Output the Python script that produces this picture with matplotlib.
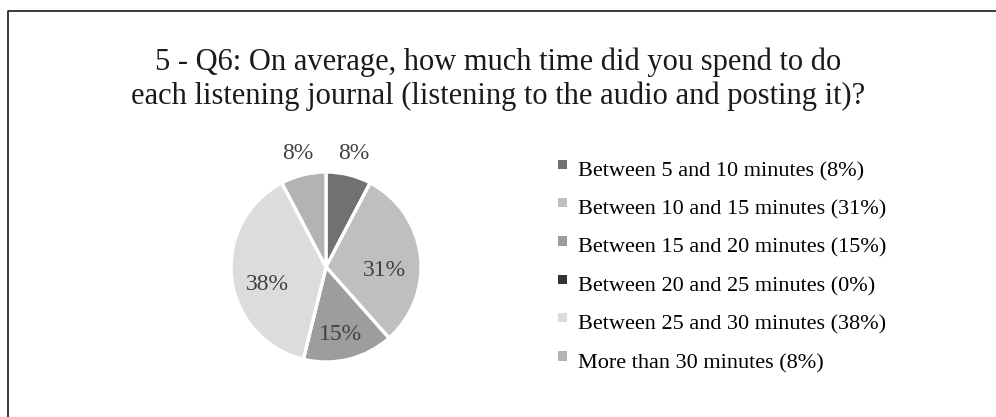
import matplotlib
matplotlib.use("Agg")
import matplotlib.pyplot as plt
import numpy as np
from matplotlib.patches import Patch, Rectangle
from matplotlib.lines import Line2D
from matplotlib.legend_handler import HandlerPatch

plt.rcParams['font.family'] = ['Liberation Serif', 'DejaVu Serif']

title = "5 - Q6: On average, how much time did you spend to do\neach listening journal (listening to the audio and posting it)?"
categories = ["Between 5 and 10 minutes", "Between 10 and 15 minutes",
              "Between 15 and 20 minutes", "Between 20 and 25 minutes",
              "Between 25 and 30 minutes", "More than 30 minutes"]
counts = [1, 4, 2, 0, 5, 1]
pct_labels = ["8%", "31%", "15%", "0%", "38%", "8%"]
colors = ["#717171", "#bfbfbf", "#9d9d9d", "#333333", "#dcdcdc", "#b3b3b3"]

W, H = 996, 417
fig = plt.figure(figsize=(W / 100, H / 100), dpi=100)

def px(x0, y0, x1, y1):
    return [x0 / W, 1 - y1 / H, (x1 - x0) / W, (y1 - y0) / H]

# border (top and left lines)
fig.add_artist(Line2D([8 / W, 8 / W, 1.0], [0.0, 1 - 11 / H, 1 - 11 / H],
                      transform=fig.transFigure, color="#1a1a1a", lw=1.2))

fig.text(0.5, 1 - 79 / H, title, ha="center", va="center", fontsize=22,
         color="#1a1a1a", linespacing=1.22)

cx, cy, r = 326, 267, 95
ax = fig.add_axes(px(cx - r, cy - r, cx + r, cy + r))
vals = np.array(counts, dtype=float)
wedges, _ = ax.pie(vals, colors=colors, startangle=90, counterclock=False,
                   wedgeprops=dict(edgecolor="white", linewidth=2.4))
ax.set_xlim(-1, 1)
ax.set_ylim(-1, 1)
ax.set_aspect("equal")
ax.axis("off")

total = vals.sum()
frac = vals / total
start = 90.0
for f, lab in zip(frac, pct_labels):
    ang = start - f * 360 / 2
    start -= f * 360
    if f == 0:
        continue
    d = 1.23 if f < 0.1 else 0.62
    x = d * np.cos(np.radians(ang))
    y = d * np.sin(np.radians(ang))
    ax.text(x, y, lab, ha="center", va="top" if f >= 0.1 else "center",
            fontsize=17, color="#404040", clip_on=False)


def raised_square(legend, orig_handle, xdescent, ydescent, width, height, fontsize):
    s = width
    return Rectangle((-xdescent, -ydescent + height * 0.45), s, s)


handles = [Patch(facecolor=c, edgecolor="none") for c in colors]
labels = [f"{c} ({p})" for c, p in zip(categories, pct_labels)]
fig.legend(handles, labels, loc="upper left", bbox_to_anchor=(558 / W, 1 - 162 / H),
           frameon=False, fontsize=16, handlelength=0.42, handleheight=0.42,
           handletextpad=0.5, labelspacing=0.86, borderpad=0, borderaxespad=0,
           handler_map={Patch: HandlerPatch(patch_func=raised_square)})

fig.savefig("out.png", dpi=100, facecolor="white")
